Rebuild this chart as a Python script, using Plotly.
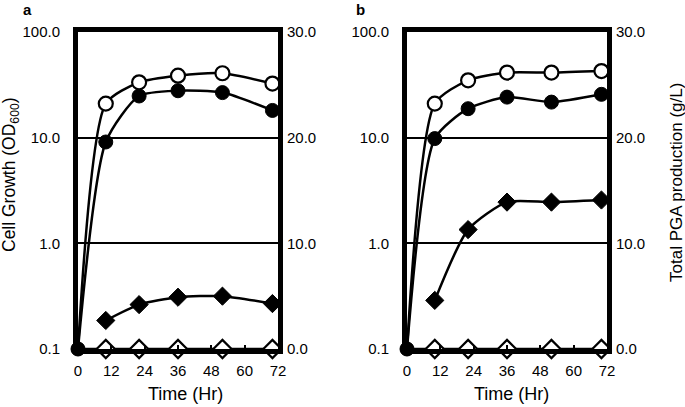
import plotly.graph_objects as go

W, H = 685, 407

# ---- data ----
time_a = [0, 10, 22, 36, 52, 70]
od_open_a = [0.1, 21.0, 33.4, 38.6, 40.7, 32.5]
od_filled_a = [0.1, 9.1, 24.8, 27.8, 26.7, 18.1]
pga_filled_time_a = [10, 22, 36, 52, 70]
pga_filled_a = [2.7, 4.2, 4.9, 5.0, 4.3]
pga_open_a = [0, 0, 0, 0, 0, 0]

time_b = [0, 10, 22, 36, 52, 70]
od_open_b = [0.1, 21.0, 34.9, 41.3, 41.3, 42.7]
od_filled_b = [0.1, 9.8, 18.8, 24.2, 21.7, 25.7]
pga_filled_time_b = [10, 22, 36, 52, 70]
pga_filled_b = [4.6, 11.3, 13.9, 13.9, 14.1]
pga_open_b = [0, 0, 0, 0, 0, 0]

x_ticks = [0, 12, 24, 36, 48, 60, 72]
left_tickvals = [0.1, 1, 10, 100]
left_ticktext = ["0.1", "1.0", "10.0", "100.0"]
right_tickvals = [0, 10, 20, 30]
right_ticktext = ["0.0", "10.0", "20.0", "30.0"]

FONT = "Liberation Sans, Arial, sans-serif"

def px(x):
    return x / W

def py(y):
    return 1 - y / H

fig = go.Figure()

panels = [
    dict(xa="x", ya="y", ya2="y2", t=time_a, oo=od_open_a, of=od_filled_a,
         pt=pga_filled_time_a, pf=pga_filled_a, po=pga_open_a),
    dict(xa="x2", ya="y3", ya2="y4", t=time_b, oo=od_open_b, of=od_filled_b,
         pt=pga_filled_time_b, pf=pga_filled_b, po=pga_open_b),
]

msize = 14
LW = 2.5
SM = 0.65
for p in panels:
    # open diamonds (PGA, right axis): line from origin, markers after it
    fig.add_trace(go.Scatter(x=p["t"], y=p["po"], xaxis=p["xa"], yaxis=p["ya2"],
                             mode="lines", cliponaxis=False,
                             line=dict(color="black", width=LW), showlegend=False))
    fig.add_trace(go.Scatter(x=p["t"][1:], y=p["po"][1:], xaxis=p["xa"], yaxis=p["ya2"],
                             mode="markers", cliponaxis=False,
                             marker=dict(symbol="diamond", size=msize, color="white",
                                         line=dict(color="black", width=2.2)),
                             showlegend=False))
    # filled diamonds (PGA, right axis)
    fig.add_trace(go.Scatter(x=p["pt"], y=p["pf"], xaxis=p["xa"], yaxis=p["ya2"],
                             mode="lines+markers", cliponaxis=False,
                             line=dict(color="black", width=LW, shape="spline", smoothing=SM),
                             marker=dict(symbol="diamond", size=msize, color="black",
                                         line=dict(color="black", width=1)),
                             showlegend=False))
    # filled circles (OD, left log axis)
    fig.add_trace(go.Scatter(x=p["t"], y=p["of"], xaxis=p["xa"], yaxis=p["ya"],
                             mode="lines+markers", cliponaxis=False,
                             line=dict(color="black", width=LW, shape="spline", smoothing=SM),
                             marker=dict(symbol="circle", size=msize, color="black",
                                         line=dict(color="black", width=1)),
                             showlegend=False))
    # open circles: line from origin
    fig.add_trace(go.Scatter(x=p["t"], y=p["oo"], xaxis=p["xa"], yaxis=p["ya"],
                             mode="lines", cliponaxis=False,
                             line=dict(color="black", width=LW, shape="spline", smoothing=SM),
                             showlegend=False))
    # open circle markers (no marker at the origin)
    fig.add_trace(go.Scatter(x=p["t"][1:], y=p["oo"][1:], xaxis=p["xa"], yaxis=p["ya"],
                             mode="markers", cliponaxis=False,
                             marker=dict(symbol="circle", size=msize, color="white", opacity=1,
                                         line=dict(color="#000000", width=2.2)),
                             showlegend=False))
    # origin marker of filled circles on top
    fig.add_trace(go.Scatter(x=p["t"][:1], y=p["of"][:1], xaxis=p["xa"], yaxis=p["ya"],
                             mode="markers", cliponaxis=False,
                             marker=dict(symbol="circle", size=msize, color="black"),
                             showlegend=False))

ydom = [py(349), py(32)]
xdom_a = [px(78), px(278)]
xdom_b = [px(407), px(607)]
tickfont = dict(family=FONT, size=15, color="black")

def xaxis_cfg(dom, anchor):
    return dict(domain=dom, anchor=anchor, range=[0, 72], tickvals=x_ticks,
                showgrid=False, zeroline=False, showline=True, linewidth=5,
                linecolor="black", mirror=True, ticks="inside", ticklen=4,
                tickwidth=2, tickcolor="black", tickfont=tickfont,
                ticklabelstandoff=4, automargin=False)

def yleft_cfg(anchor):
    return dict(domain=ydom, anchor=anchor, type="log", range=[-1, 2],
                tickvals=left_tickvals, ticktext=left_ticktext,
                showgrid=True, gridcolor="black", gridwidth=1.5,
                zeroline=False, showline=True, linewidth=5, linecolor="black",
                mirror=True, ticks="", tickfont=tickfont, ticklabelstandoff=10,
                automargin=False)

def yright_cfg(overlay, anchor):
    return dict(overlaying=overlay, anchor=anchor, side="right", range=[0, 30],
                tickvals=right_tickvals, ticktext=right_ticktext,
                showgrid=False, zeroline=False, showline=False, ticks="",
                tickfont=tickfont, ticklabelstandoff=8, automargin=False)

fig.update_layout(
    width=W, height=H,
    margin=dict(l=0, r=0, t=0, b=0, pad=0),
    paper_bgcolor="white", plot_bgcolor="white",
    font=dict(family=FONT, color="black"),
    xaxis=xaxis_cfg(xdom_a, "y"),
    xaxis2=xaxis_cfg(xdom_b, "y3"),
    yaxis=yleft_cfg("x"),
    yaxis2=yright_cfg("y", "x"),
    yaxis3=yleft_cfg("x2"),
    yaxis4=yright_cfg("y3", "x2"),
)

ann = [
    dict(text="<b>a</b>", x=px(27), y=py(9)),
    dict(text="<b>b</b>", x=px(360), y=py(9)),
    dict(text="Time (Hr)", x=px(185), y=py(394), size=18),
    dict(text="Time (Hr)", x=px(511), y=py(394), size=18),
    dict(text="Cell Growth (OD<sub>600</sub>)", x=px(11), y=py(175), size=17.5, angle=-90),
    dict(text="Total PGA production (g/L)", x=px(676), y=py(183), size=17, angle=-90),
]
for a in ann:
    fig.add_annotation(text=a["text"], x=a["x"], y=a["y"], xref="paper", yref="paper",
                       showarrow=False, xanchor="center", yanchor="middle",
                       textangle=a.get("angle", 0),
                       font=dict(family=FONT, size=a.get("size", 15), color="black"))

fig.write_html("out.html", config={"displayModeBar": False},
               post_script="document.body.style.margin='0';document.body.style.overflow='hidden';")
